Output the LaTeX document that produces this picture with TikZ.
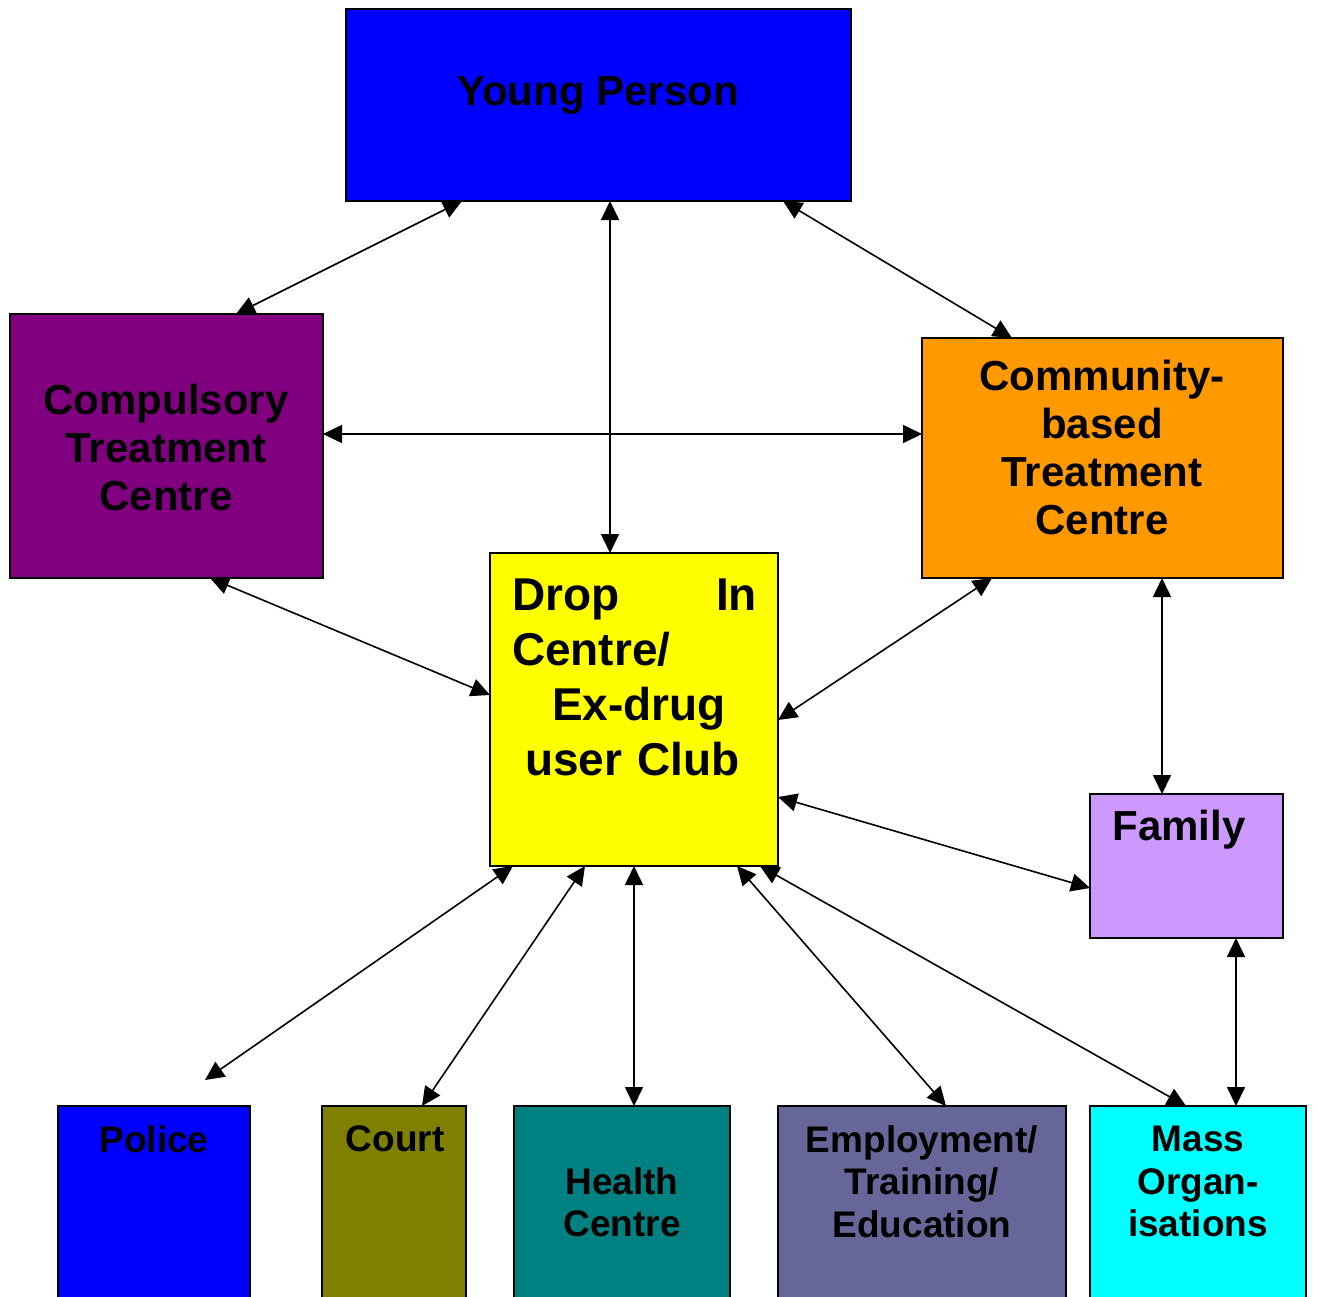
\documentclass[tikz,border=0pt]{standalone}
\usepackage{fontspec}
\setmainfont{Liberation Sans}
\usetikzlibrary{arrows.meta,calc}
\definecolor{cpurple}{RGB}{128,0,128}
\definecolor{corange}{RGB}{255,153,0}
\definecolor{cyellow}{RGB}{255,255,0}
\definecolor{cfamily}{RGB}{204,153,255}
\definecolor{cblue}{RGB}{0,0,255}
\definecolor{colive}{RGB}{128,128,0}
\definecolor{cteal}{RGB}{0,128,128}
\definecolor{cslate}{RGB}{102,102,153}
\definecolor{ccyan}{RGB}{0,255,255}
\begin{document}
\begin{tikzpicture}[x=1pt,y=-1pt,
  box/.style={draw=black,line width=2pt,anchor=north west,inner sep=0pt,outer sep=0pt},
  lbl/.style={font=\bfseries\fontsize{42}{48}\selectfont,align=center,inner sep=0pt},
  blbl/.style={font=\bfseries\fontsize{37}{42.5}\selectfont,align=center,inner sep=0pt},
  link/.style={line width=1.6pt,{Triangle[length=19pt,width=18pt]}-{Triangle[length=19pt,width=18pt]}}]
\useasboundingbox (0,0) rectangle (1317,1296);
% boxes
\node[box,fill=cblue,minimum width=505pt,minimum height=192pt] (yp) at (346,9) {};
\node[box,fill=cpurple,minimum width=313pt,minimum height=264pt] (comp) at (10,314) {};
\node[box,fill=corange,minimum width=361pt,minimum height=240pt] (comm) at (922,338) {};
\node[box,fill=cyellow,minimum width=288pt,minimum height=313pt] (drop) at (490,553) {};
\node[box,fill=cfamily,minimum width=193pt,minimum height=144pt] (fam) at (1090,794) {};
\node[box,fill=cblue,minimum width=192pt,minimum height=200pt] (pol) at (58,1106) {};
\node[box,fill=colive,minimum width=144pt,minimum height=200pt] (court) at (322,1106) {};
\node[box,fill=cteal,minimum width=216pt,minimum height=200pt] (health) at (514,1106) {};
\node[box,fill=cslate,minimum width=288pt,minimum height=200pt] (emp) at (778,1106) {};
\node[box,fill=ccyan,minimum width=216pt,minimum height=200pt] (mass) at (1090,1106) {};
% labels
\node[lbl] (ypt) at (598,95) {Young Person};
\node[lbl] (compt) at (166,447) {Compulsory\\Treatment\\Centre};
\node[lbl] (commt) at (1102,447) {Community-\\based\\Treatment\\Centre};
\node[font=\bfseries\fontsize{46}{55}\selectfont,text width=245pt,align=left,inner sep=0pt] (dropt) at (634.5,677)
  {\hbox to 245pt{Drop\hfill In}\\Centre/\\\hspace*{40pt}Ex-drug\\\hspace*{13pt}user Club};
\node[lbl] (famt) at (1179,830) {Family};
\node[blbl] (polt) at (154,1139) {Police};
\node[blbl] (courtt) at (395,1139) {Court};
\node[blbl] (healtht) at (622,1202.5) {Health\\Centre};
\node[blbl] (empt) at (922,1181.5) {Employment/\\Training/\\Education};
\node[blbl] (masst) at (1198,1181.5) {Mass\\Organ-\\isations};
% free end above Police
\coordinate (polend) at (205,1080);
% connectors
\draw[link] ($(yp.south west)+(116,0)$) -- ($(comp.north west)+(226,0)$);
\draw[link] ($(yp.south west)+(264,0)$) -- ($(drop.north west)+(120,0)$);
\draw[link] ($(yp.south west)+(437,0)$) -- ($(comm.north west)+(90,0)$);
\draw[link] ($(comp.north east)+(0,120)$) -- ($(comm.north west)+(0,96)$);
\draw[link] ($(comp.south west)+(200,0)$) -- ($(drop.north west)+(0,142)$);
\draw[link] ($(comm.south west)+(70,0)$) -- ($(drop.north east)+(0,167)$);
\draw[link] ($(comm.south west)+(240,0)$) -- ($(fam.north west)+(72,0)$);
\draw[link] ($(fam.north west)+(0,94)$) -- ($(drop.north east)+(0,244)$);
\draw[link] ($(fam.south west)+(146,0)$) -- ($(mass.north west)+(146,0)$);
\draw[link] ($(drop.south west)+(23,0)$) -- (polend);
\draw[link] ($(drop.south west)+(95,0)$) -- ($(court.north west)+(100,0)$);
\draw[link] ($(drop.south west)+(144,0)$) -- ($(health.north west)+(120,0)$);
\draw[link] ($(drop.south west)+(247,0)$) -- ($(emp.north west)+(168,0)$);
\draw[link] ($(drop.south west)+(270,0)$) -- ($(mass.north west)+(96,0)$);
\end{tikzpicture}
\end{document}
